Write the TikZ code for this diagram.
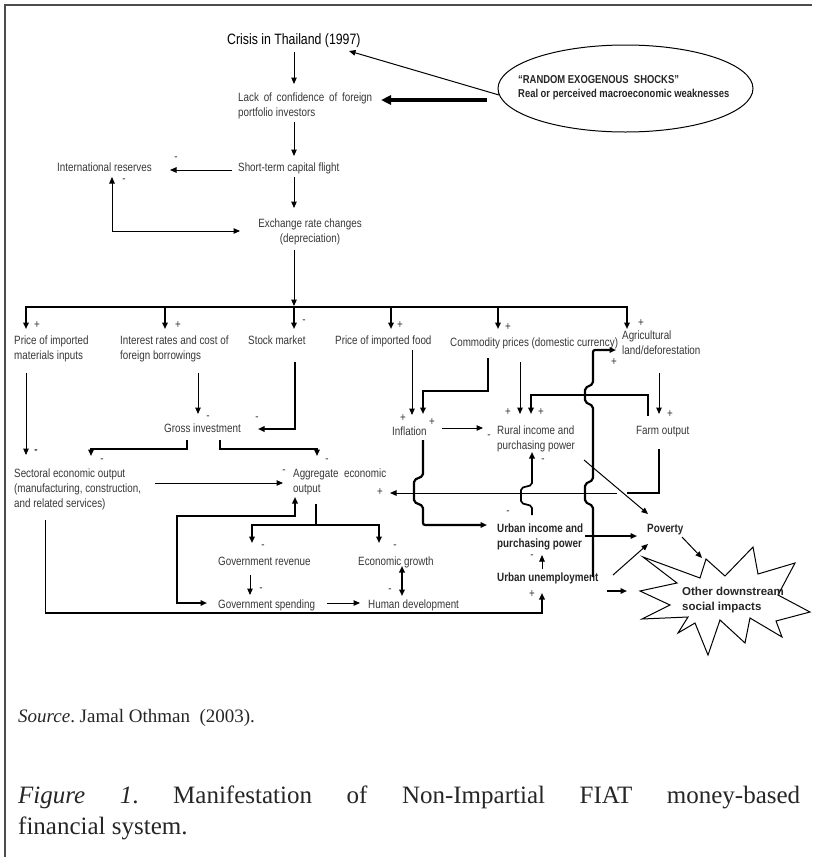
\documentclass[tikz,border=0pt]{standalone}
\usepackage{fontspec}
\setmainfont{Liberation Serif}
\newfontfamily\narrow[FakeStretch=0.82]{Liberation Sans}
\newfontfamily\plainsans{Liberation Sans}
\usetikzlibrary{arrows.meta,shapes.geometric}
\definecolor{txt}{gray}{0.22}
\frenchspacing
\begin{document}
\begin{tikzpicture}[x=1pt,y=-1pt,
  >={Triangle[length=6.5pt,width=5.5pt]},
  thinline/.style={line width=1pt},
  thickline/.style={line width=2.2pt},
  midline/.style={line width=1.7pt},
  lbl/.style={font={\narrow\fontsize{12}{15}\selectfont}, text=txt, inner sep=0pt, anchor=base west, align=left},
  lblb/.style={lbl, font={\narrow\bfseries\fontsize{12}{15}\selectfont}, text=black!85},
  sgn/.style={font={\narrow\fontsize{12}{15}\selectfont}, text=txt, inner sep=0pt, anchor=center},
]
\useasboundingbox (0,0) rectangle (812,857);
\fill[white] (0,0) rectangle (812,857);
% frame
\draw[line width=1.3pt, black!70] (5,857) -- (5,5) -- (812,5);

% ---------- nodes (base = baseline of last line) ----------
\node[lbl, font={\narrow\fontsize{15}{18}\selectfont}, text=black] (crisis) at (227,44) {Crisis in Thailand (1997)};
\node[lbl] (lack) at (238,116) {\makebox[134pt][s]{Lack of confidence of foreign}\\portfolio investors};
\node[lbl] (short) at (238,171) {Short-term capital flight};
\node[lbl] (intres) at (57,171) {International reserves};
\node[lbl, align=center, anchor=base] (exch) at (310,242) {Exchange rate changes\\(depreciation)};
\node[lbl] (pimm) at (14,359) {Price of imported\\materials inputs};
\node[lbl] (intr) at (120,359) {Interest rates and cost of\\foreign borrowings};
\node[lbl] (stock) at (248,344) {Stock market};
\node[lbl] (pfood) at (335,344) {Price of imported food};
\node[lbl] (comm) at (450,346) {Commodity prices (domestic currency)};
\node[lbl] (agri) at (622,354) {Agricultural\\land/deforestation};
\node[lbl] (gross) at (164,432) {Gross investment};
\node[lbl] (sect) at (14,507) {Sectoral economic output\\(manufacturing, construction,\\and related services)};
\node[lbl] (agg) at (293,492) {Aggregate\ \ economic\\output};
\node[lbl] (govrev) at (218,565) {Government revenue};
\node[lbl] (econ) at (358,565) {Economic growth};
\node[lbl] (govsp) at (218,608) {Government spending};
\node[lbl] (human) at (368,608) {Human development};
\node[lbl] (infl) at (392,435) {Inflation};
\node[lbl] (rural) at (497,449) {Rural income and\\purchasing power};
\node[lbl] (farm) at (636,434) {Farm output};
\node[lblb] (urban) at (497,547) {Urban income and\\purchasing power};
\node[lblb] (poverty) at (647,532) {Poverty};
\node[lblb] (unemp) at (497,581) {Urban unemployment};

% ellipse
\node[draw, ellipse, line width=1pt, minimum width=255pt, minimum height=87pt, inner sep=0pt] (shock) at (625.5,88.5) {};
\node[lblb, font={\narrow\bfseries\fontsize{11.5}{14}\selectfont}] (shocktxt) at (518,97) {“RANDOM EXOGENOUS\ \ SHOCKS”\\Real or perceived macroeconomic weaknesses};

% star
\draw[line width=1pt] (643,557) -- (700,578) -- (706,559) -- (725,576) -- (753,547) -- (758,574) -- (795,563) -- (778,595) -- (810,612) -- (776,621) -- (782,637) -- (750,618) -- (745,643) -- (720,620) -- (708,655) -- (695,623) -- (678,633) -- (688,617) -- (642,619) -- (670,605) -- (640,591) -- (677,583) -- cycle;
\node[font={\plainsans\bfseries\fontsize{11.5}{15}\selectfont}, text=black!85, inner sep=0pt, anchor=base west, align=left] (other) at (682,610) {Other downstream\\social impacts};

% caption
\node[inner sep=0pt, anchor=base west, font={\fontsize{19}{23}\selectfont}, text=black!85] (source) at (18,722) {\textit{Source}. Jamal Othman\ \ (2003).};
\node[inner sep=0pt, anchor=base west, font={\fontsize{25}{31}\selectfont}, text=black!85, text width=782pt, align=justify] (fig) at (18,803) {\textit{Figure 1}. Manifestation of Non-Impartial FIAT money-based\linebreak financial system.};

% ---------- connectors ----------
\draw[thinline,->] (294,52) -- (294,84);
\draw[thinline,->] (499,95) -- (349,51);
\draw[line width=3.3pt,-{Triangle[length=10pt,width=9pt]}] (487,100) -- (381,100);
\draw[thinline,->] (294,122) -- (294,156);
\draw[thinline,->] (232,170) -- (170,170);
\node[sgn] at (176,159) {-};
\draw[thinline,<->] (112,177) -- (112,231) -- (240,231);
\node[sgn] at (124,181) {-};
\draw[thinline,->] (294,177) -- (294,208);
\draw[thinline,->] (294,250) -- (294,306);
% bus
\draw[line width=2.5pt] (24.75,307) -- (628.25,307);
\foreach \x in {26,165,294,391,498,627} \draw[midline,->] (\x,307) -- (\x,329);
\node[sgn] at (37,325) {+};
\node[sgn] at (178,325) {+};
\node[sgn] at (304,322) {-};
\node[sgn] at (400,325) {+};
\node[sgn] at (508,327) {+};
\node[sgn] at (641,323) {+};
% middle left
\draw[thinline,->] (26,373) -- (26,455);
\node[sgn, font={\narrow\bfseries\fontsize{12}{15}\selectfont}] at (36,452) {-};
\draw[thinline,->] (198,373) -- (198,414);
\node[sgn] at (208,418) {-};
\draw[thickline,->] (295,362) -- (295,429) -- (258,429);
\node[sgn] at (257,419) {-};
\draw[thickline,->] (187,440) -- (187,449) -- (91,449) -- (91,456);
\node[sgn] at (102,461) {-};
\draw[thickline,->] (220,440) -- (220,449) -- (317,449) -- (317,456);
\node[sgn] at (327,461) {-};
\draw[thinline,->] (155,483) -- (283,483);
\node[sgn] at (284,472) {-};
\draw[thickline] (659,449) -- (659,493) -- (627,493);
\draw[thinline,->] (617,493) -- (390,493);
\node[sgn] at (380,492) {+};
% lower left
\draw[thickline] (316,504) -- (316,525);
\draw[thickline,->] (316,525) -- (252,525) -- (252,543);
\draw[thickline,->] (316,525) -- (379,525) -- (379,543);
\node[sgn] at (263,547) {-};
\node[sgn] at (395,547) {-};
\draw[thinline,->] (250,575) -- (250,595);
\node[sgn] at (261,590) {-};
\draw[thinline,->] (327,603) -- (360,603);
\draw[midline,<->] (402,566) -- (402,596);
\node[sgn] at (390,591) {-};
\draw[thickline,<->] (295,497) -- (295,516) -- (177,516) -- (177,603) -- (207,603);
\draw[thinline] (45,520) -- (45,613);
\draw[thickline,->] (45,613) -- (542,613) -- (542,593);
\node[sgn] at (532,594) {+};
% right network
\draw[thinline,->] (412,350) -- (412,415);
\draw[thickline,->] (488,358) -- (488,391) -- (423,391) -- (423,414);
\node[sgn] at (403,418) {+};
\node[sgn] at (432,422) {+};
\draw[thinline,->] (520,362) -- (520,414);
\node[sgn] at (508,412) {+};
\draw[thickline,->] (648,416) -- (648,395) -- (531,395) -- (531,414);
\node[sgn] at (541,412) {+};
\draw[thinline,->] (659,373) -- (659,414);
\node[sgn] at (670,414) {+};
\draw[thickline,->,rounded corners=2pt] (593,577) -- (593,506) -- (585,502) -- (585,484) -- (593,480) -- (593,406) -- (585,402) -- (585,388) -- (593,384) -- (593,350) -- (616,350);
\node[sgn] at (614,362) {+};
\draw[thinline,->] (442,428) -- (483,428);
\node[sgn] at (489,437) {-};
\draw[thickline,->,rounded corners=2pt] (423,440) -- (423,476) -- (414,480) -- (414,502) -- (423,506) -- (423,525) -- (487,525);
\draw[midline,->,rounded corners=2pt] (532,515) -- (532,506) -- (521,503) -- (521,488) -- (532,485) -- (532,452);
\node[sgn] at (543,461) {-};
\node[sgn] at (508,513) {-};
\draw[thinline,->] (584,460) -- (648,514);
\draw[midline,->] (585,536) -- (637,536);
\draw[thinline,->] (542,569) -- (542,555);
\node[sgn] at (532,557) {-};
\draw[thinline,->] (613,575) -- (648,544);
\draw[thinline,->] (682,537) -- (702,558);
\draw[midline,->] (607,591) -- (627,591);
\end{tikzpicture}
\end{document}
